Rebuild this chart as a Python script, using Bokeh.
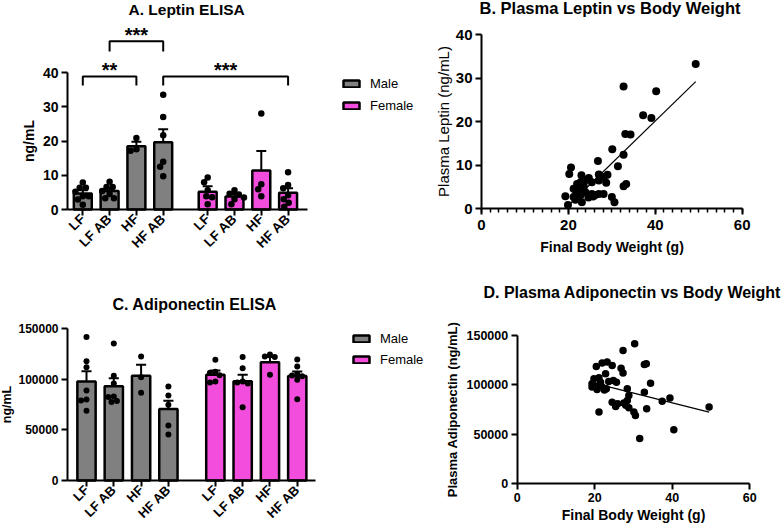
import math
from bokeh.plotting import figure
from bokeh.layouts import row, column
from bokeh.models import (Range1d, FixedTicker, Legend, LegendItem, Label,
                          BasicTickFormatter)
from bokeh.embed import file_html
from bokeh.resources import INLINE

FONT = "Liberation Sans"
GRAY = "#808080"
PINK = "#f24ddc"

# ------------------------------------------------------------------ data
groups = ["LF", "LF AB", "HF", "HF AB"]
sexes = ["Male", "Female"]

leptin_male_mean = [4.7, 5.4, 18.5, 19.7]
leptin_male_sem = [0.9, 0.8, 1.3, 3.8]
leptin_female_mean = [5.2, 3.8, 11.4, 4.9]
leptin_female_sem = [1.6, 0.7, 5.7, 1.3]
leptin_male_points = [
    [7.9, 6.4, 6.4, 5.2, 3.9, 3.9, 2.9, 1.4],
    [8.1, 6.6, 6.6, 5.4, 4.5, 3.3, 3.3],
    [20.9, 17.6, 17.2],
    [33.6, 27.1, 21.7, 14.0, 12.5, 9.7],
]
leptin_female_points = [
    [9.4, 8.0, 5.6, 3.9, 3.6, 1.5],
    [5.6, 4.6, 4.4, 3.5, 3.0, 1.5],
    [28.1, 7.4, 5.9, 3.9],
    [10.9, 7.2, 6.2, 4.2, 3.0, 2.0, 0.8],
]
# significance brackets: (sex_a, group_a, sex_b, group_b, stars, level)
leptin_sig = [
    ("Male", "LF", "Male", "HF", "**", 0),
    ("Male", "LF AB", "Male", "HF AB", "***", 1),
    ("Male", "HF AB", "Female", "HF AB", "***", 0),
]

adipo_male_mean = [97900, 93300, 103500, 70700]
adipo_male_sem = [10200, 7900, 10900, 8100]
adipo_female_mean = [104500, 98200, 117000, 103400]
adipo_female_sem = [4300, 6300, 5000, 4400]
adipo_male_points = [
    [142000, 118000, 112000, 89000, 80000, 79000, 69000],
    [135500, 103500, 96000, 83000, 82500, 78500, 77500],
    [122500, 102000, 86700],
    [93000, 84000, 75000, 54400, 45500],
]
adipo_female_points = [
    [119300, 107500, 106500, 104000, 98000, 97000],
    [122000, 111000, 98000, 97000, 96000, 72500],
    [124600, 122600, 122000, 104500],
    [119700, 112800, 105500, 103900, 103000, 99600, 80400],
]

leptin_bw = [49.3, 32.7, 40.2, 37.2, 39.1, 33.1, 34.3, 30.1, 32.7, 31.4,
             26.8, 20.6, 20.2, 23.0, 27.0, 28.1, 24.7, 25.4, 28.7, 27.0,
             22.0, 22.8, 32.7, 33.3, 23.5, 21.2, 22.4, 19.3, 21.2, 22.8,
             23.9, 25.4, 27.0, 28.1, 30.0, 25.7, 21.6, 23.1, 30.6, 19.9,
             24.3, 21.8, 23.5, 22.3, 24.6, 26.2, 29.0]
leptin_plasma = [33.3, 28.1, 27.0, 21.5, 20.9, 17.2, 17.1, 13.7, 12.4, 9.8,
                 11.0, 9.5, 8.0, 7.7, 7.9, 7.3, 7.1, 6.1, 6.0, 6.5,
                 5.7, 6.1, 5.2, 5.7, 5.0, 4.6, 4.2, 2.9, 2.7, 3.1,
                 3.8, 3.4, 3.4, 3.4, 2.7, 2.8, 2.1, 1.5, 1.5, 0.9,
                 6.7, 3.6, 5.5, 3.4, 2.6, 3.2, 7.8]
leptin_fit = (0.972, -18.7)  # slope, intercept

adipo_bw = [30.3, 27.3, 20.4, 21.9, 23.2, 24.5, 26.8, 27.3, 32.8, 33.3,
            22.8, 19.8, 21.1, 19.3, 21.5, 23.6, 25.6, 19.3, 20.6, 21.9,
            23.0, 34.4, 28.4, 32.8, 28.8, 39.4, 37.4, 24.5, 25.9, 27.5,
            28.4, 25.4, 28.8, 49.5, 33.4, 21.1, 30.1, 30.5, 40.4, 31.6,
            20.2, 22.5, 24.8, 28.0]
adipo_plasma = [141600, 134900, 118700, 122100, 123100, 119700, 117000, 112000, 120700, 121400,
                111300, 106200, 107200, 101200, 102800, 103500, 102800, 97800, 95400, 97800,
                96100, 101800, 96100, 92700, 89400, 86700, 83600, 82600, 80900, 81600,
                84300, 78200, 76900, 77600, 75900, 72500, 72500, 69100, 54600, 45900,
                99000, 95000, 104500, 79500]
adipo_fit = (-986.0, 121300.0)


# ------------------------------------------------------------------ helpers
def style_axis(ax, tick_size, label_size, label_style="bold"):
    ax.axis_line_width = 2
    ax.axis_line_color = "black"
    ax.major_tick_line_width = 2
    ax.major_tick_line_color = "black"
    ax.major_tick_out = 6
    ax.major_tick_in = 0
    ax.minor_tick_line_color = None
    ax.major_label_text_font = FONT
    ax.major_label_text_font_style = "bold"
    ax.major_label_text_font_size = tick_size
    ax.major_label_text_color = "black"
    ax.major_label_standoff = 3
    ax.axis_label_text_font = FONT
    ax.axis_label_text_font_style = label_style
    ax.axis_label_text_color = "black"
    ax.axis_label_text_font_size = label_size
    ax.axis_label_standoff = 4


def base_fig(g):
    # the frame fills the whole figure; axes are pinned at data positions
    ppx, ppy = g["ppx"], g["ppy"]
    xr = Range1d(-g["X0"] / ppx, (g["W"] - g["X0"]) / ppx)
    yr = Range1d(-(g["H"] - g["Y0"]) / ppy, g["Y0"] / ppy)
    p = figure(width=g["W"], height=g["H"], x_range=xr, y_range=yr,
               toolbar_location=None, output_backend="svg",
               min_border=0, min_border_left=0, min_border_right=0,
               min_border_top=0, min_border_bottom=0)
    p.xgrid.visible = False
    p.ygrid.visible = False
    p.outline_line_color = None
    p.background_fill_color = "white"
    p.border_fill_color = "white"
    return p


def px_to_x(g, px):
    return (px - g["X0"]) / g["ppx"]


def py_to_y(g, py):
    return (g["Y0"] - py) / g["ppy"]


def add_title(p, text, g):
    p.add_layout(Label(x=px_to_x(g, g["title_x"]), y=py_to_y(g, g["title_y"]),
                       text=text, text_align="left", text_baseline="middle",
                       text_font=FONT, text_font_style="bold",
                       text_font_size=g["title_size"], text_color="black"))


def swarm_offsets(vals, ppy, ppx, d):
    placed = []
    offs = [0.0] * len(vals)
    order = sorted(range(len(vals)), key=lambda i: -vals[i])
    for i in order:
        y = vals[i] * ppy
        blocks = []
        for bx, by in placed:
            dy = abs(y - by)
            if dy < d:
                half = math.sqrt(d * d - dy * dy)
                blocks.append((bx - half, bx + half))
        cands = [0.0] + [b[0] for b in blocks] + [b[1] for b in blocks]
        ok = [c for c in cands if all(not (lo + 1e-6 < c < hi - 1e-6) for lo, hi in blocks)]
        best = min(ok, key=lambda c: (abs(c), c))
        placed.append((best, y))
        offs[i] = best / ppx
    return offs


def bar_panel(title, ylabel, m_mean, m_sem, f_mean, f_sem, m_pts, f_pts, g, sig=None):
    ppx, ppy = g["ppx"], g["ppy"]
    p = base_fig(g)

    pos = {}
    for i, grp in enumerate(groups):
        pos[("Male", grp)] = float(i)
        pos[("Female", grp)] = round(len(groups) - 1 + g["gap"] + i, 3)
    pos_m = [pos[("Male", grp)] for grp in groups]
    pos_f = [pos[("Female", grp)] for grp in groups]

    rm = p.vbar(x=pos_m, top=m_mean, bottom=0, width=g["bar_w"], fill_color=GRAY,
                line_color="black", line_width=2.5)
    rf = p.vbar(x=pos_f, top=f_mean, bottom=0, width=g["bar_w"], fill_color=PINK,
                line_color="black", line_width=2.5)

    xs = pos_m + pos_f
    means = list(m_mean) + list(f_mean)
    sems = list(m_sem) + list(f_sem)
    tops = [m + s for m, s in zip(means, sems)]
    cw = g["cap_w"]
    p.segment(x0=xs, y0=means, x1=xs, y1=tops, line_color="black", line_width=2)
    p.segment(x0=[x - cw / 2 for x in xs], y0=tops, x1=[x + cw / 2 for x in xs], y1=tops,
              line_color="black", line_width=2)

    dx, dy = [], []
    for x, pts in zip(xs, list(m_pts) + list(f_pts)):
        offs = swarm_offsets(pts, ppy, ppx, g["dot"] * 0.92)
        dx += [x + o for o in offs]
        dy += list(pts)
    p.scatter(x=dx, y=dy, size=g["dot"], fill_color="black", line_color=None)

    if sig:
        for sa, ga, sb, gb, stars, lvl in sig:
            xa, xb = pos[(sa, ga)], pos[(sb, gb)]
            ytop, yleg = g["brackets"][lvl]
            p.line(x=[xa, xa, xb, xb], y=[yleg, ytop, ytop, yleg], line_color="black", line_width=2)
            p.add_layout(Label(x=(xa + xb) / 2, y=ytop + g["star_dy"], text=stars,
                               text_align="center", text_baseline="alphabetic",
                               text_font=FONT, text_font_style="bold",
                               text_font_size=g["star_size"], text_color="black"))

    ax_left = px_to_x(g, g["axis_x"])
    xa_ = p.xaxis[0]
    style_axis(xa_, g["xtick_size"], "12px")
    xa_.ticker = FixedTicker(ticks=xs)
    xa_.major_label_overrides = {x: grp for x, grp in zip(pos_m + pos_f, groups + groups)}
    xa_.major_label_orientation = math.pi / 4
    xa_.bounds = (ax_left, px_to_x(g, g["axis_x_end"]))
    xa_.major_label_standoff = 1
    xa_.fixed_location = 0

    ya = p.yaxis[0]
    style_axis(ya, g["ytick_size"], g["ylabel_size"])
    ya.axis_label = ylabel
    ya.ticker = FixedTicker(ticks=g["yticks"])
    ya.formatter = BasicTickFormatter(use_scientific=False)
    ya.bounds = (0, g["yticks"][-1])
    ya.axis_label_standoff = g["ylabel_standoff"]
    ya.fixed_location = ax_left

    leg = Legend(items=[LegendItem(label=sexes[0], renderers=[rm]),
                        LegendItem(label=sexes[1], renderers=[rf])],
                 location=g["legend_loc"], orientation="vertical",
                 glyph_width=20, glyph_height=9, label_standoff=9,
                 label_text_font=FONT, label_text_font_size="13px", label_text_color="black",
                 label_height=16, spacing=g["legend_spacing"], padding=0, margin=0,
                 border_line_color=None, background_fill_alpha=0)
    p.add_layout(leg)
    add_title(p, title, g)
    return p


def scatter_panel(title, xlabel, ylabel, xs, ys, fit, g):
    p = base_fig(g)
    p.scatter(x=xs, y=ys, size=g["dot"], fill_color="black", line_color=None)
    lo, hi = min(xs), max(xs)
    p.line(x=[lo, hi], y=[fit[0] * lo + fit[1], fit[0] * hi + fit[1]],
           line_color="black", line_width=1.2)
    xa_ = p.xaxis[0]
    style_axis(xa_, g["xtick_size"], g["xlabel_size"])
    xa_.axis_label = xlabel
    xa_.ticker = FixedTicker(ticks=[0, 20, 40, 60], minor_ticks=g["minor"])
    xa_.bounds = (0, 60)
    xa_.fixed_location = 0
    if g["minor"]:
        xa_.minor_tick_line_color = "black"
        xa_.minor_tick_line_width = 1.5
        xa_.minor_tick_out = 4
        xa_.minor_tick_in = 0
    xa_.axis_label_standoff = g["xlabel_standoff"]
    xa_.major_label_standoff = g["xtick_standoff"]
    ya = p.yaxis[0]
    style_axis(ya, g["ytick_size"], g["ylabel_size"], g["ylabel_style"])
    ya.axis_label = ylabel
    ya.ticker = FixedTicker(ticks=g["yticks"])
    ya.formatter = BasicTickFormatter(use_scientific=False)
    ya.bounds = (0, g["yticks"][-1])
    ya.fixed_location = 0
    ya.axis_label_standoff = g["ylabel_standoff"]
    add_title(p, title, g)
    return p


# ------------------------------------------------------------------ geometry
# X0 / Y0: pixel position (inside each figure) of data x=0 / y=0
gA = dict(W=420, H=259, X0=82.3, Y0=209, ppx=26.8, ppy=136.7 / 40,
          axis_x=67, axis_x_end=307, gap=1.66, bar_w=0.67, cap_w=0.37, dot=6.5,
          yticks=[0, 10, 20, 30, 40],
          brackets={0: (38.9, 36.3), 1: (49.2, 46.2)}, star_dy=1.8, star_size="20px",
          xtick_size="13.5px", ytick_size="14px", ylabel_size="14px", ylabel_standoff=3,
          legend_loc=(341, 146), legend_spacing=6,
          title_size="15.5px", title_x=128, title_y=8.5)
gB = dict(W=364, H=259, X0=61, Y0=208.3, ppx=260.7 / 60, ppy=174 / 40, dot=8,
          yticks=[0, 10, 20, 30, 40], minor=list(range(0, 61, 2)),
          xtick_size="15px", ytick_size="15px", xlabel_size="14px", ylabel_size="15px",
          ylabel_style="normal", xlabel_standoff=6, xtick_standoff=5, ylabel_standoff=1,
          title_size="16.5px", title_x=59, title_y=7.5)
gC = dict(W=440, H=265, X0=86, Y0=221, ppx=27.3, ppy=151.7 / 150000,
          axis_x=67, axis_x_end=315, gap=1.72, bar_w=0.67, cap_w=0.37, dot=6,
          yticks=[0, 50000, 100000, 150000],
          brackets={}, star_dy=0, star_size="18px",
          xtick_size="13px", ytick_size="12px", ylabel_size="12.5px", ylabel_standoff=1,
          legend_loc=(351, 157), legend_spacing=5,
          title_size="16px", title_x=112, title_y=45)
gD = dict(W=344, H=265, X0=76.7, Y0=224.3, ppx=232.6 / 60, ppy=148.3 / 150000, dot=7.5,
          yticks=[0, 50000, 100000, 150000], minor=[],
          xtick_size="12.5px", ytick_size="12.5px", xlabel_size="14px", ylabel_size="13px",
          ylabel_style="bold", xlabel_standoff=2, xtick_standoff=3, ylabel_standoff=4,
          title_size="16px", title_x=43, title_y=33)

pA = bar_panel("A. Leptin ELISA", "ng/mL", leptin_male_mean, leptin_male_sem,
               leptin_female_mean, leptin_female_sem, leptin_male_points,
               leptin_female_points, gA, sig=leptin_sig)
pB = scatter_panel("B. Plasma Leptin vs Body Weight", "Final Body Weight (g)",
                   "Plasma Leptin (ng/mL)", leptin_bw, leptin_plasma, leptin_fit, gB)
pC = bar_panel("C. Adiponectin ELISA", "ng/mL", adipo_male_mean, adipo_male_sem,
               adipo_female_mean, adipo_female_sem, adipo_male_points,
               adipo_female_points, gC)
pD = scatter_panel("D. Plasma Adiponectin vs Body Weight", "Final Body Weight (g)",
                   "Plasma Adiponectin (ng/mL)", adipo_bw, adipo_plasma, adipo_fit, gD)

layout = column(row(pA, pB), row(pC, pD))
open("out.html", "w").write(file_html(layout, INLINE, title="Leptin and adiponectin"))
